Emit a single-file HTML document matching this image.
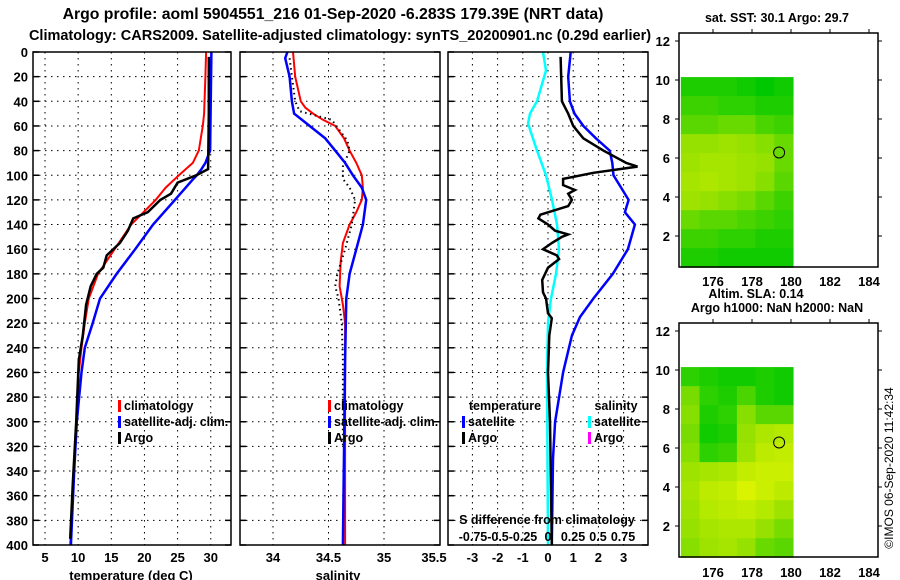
<!DOCTYPE html>
<html><head><meta charset="utf-8"><style>
html,body{margin:0;padding:0;background:#fff;}
svg{display:block;font-family:"Liberation Sans",sans-serif;}
.b{font-weight:bold;font-size:13px;}
</style></head><body>
<svg id="chart" width="900" height="580" viewBox="0 0 900 580" xmlns="http://www.w3.org/2000/svg">
<text x="333" y="19" text-anchor="middle" class="b" style="font-size:15.8px">Argo profile: aoml 5904551_216 01-Sep-2020 -6.283S 179.39E (NRT data)</text>
<text x="340" y="40" text-anchor="middle" class="b" style="font-size:14.5px">Climatology: CARS2009. Satellite-adjusted climatology: synTS_20200901.nc (0.29d earlier)</text>
<g id="layer"></g>
</svg>
<script>
// ---- data ----
const depthTicks=[0,20,40,60,80,100,120,140,160,180,200,220,240,260,280,300,320,340,360,380,400];
const tempTicks=[5,10,15,20,25,30];
const salTicks=[34,34.5,35,35.5];
const tdiffTicks=[-3,-2,-1,0,1,2,3];
const sdiffTicks=[-0.75,-0.5,-0.25,0,0.25,0.5,0.75];
const sdiffLabels=["-0.75","-0.5","-0.25","0","0.25","0.5","0.75"];

const climTDepth=[0,20,50,60,80,90,100,110,120,140,160,180,200,220,240,260,300,340,380,400];
const climTVal=[29.3,29.2,29.0,28.8,28.2,27.3,25.2,23.2,21.7,18.0,15.5,13.0,11.6,11.0,10.5,10.1,9.8,9.3,9.0,8.8];
const satTDepth=[0,80,90,95,100,104,120,140,160,180,200,220,240,260,300,340,400];
const satTVal=[30.1,29.9,29.2,28.6,27.9,27.2,24.6,21.3,18.6,15.8,13.3,12.2,11.0,10.5,9.8,9.4,8.9];
const argoTDepth=[4,50,95,100,106,115,120,130,135,145,155,165,175,180,190,205,230,250,300,350,395];
const argoTVal=[29.7,29.7,29.6,27.8,25.0,24.0,22.4,20.5,18.3,17.5,16.3,14.3,13.8,12.8,11.9,11.2,10.7,10.1,9.7,9.2,8.8];

const climSDepth=[0,20,40,45,50,55,60,70,80,90,100,110,120,130,140,155,170,190,205,220,400];
const climSVal=[34.18,34.2,34.25,34.29,34.36,34.45,34.56,34.64,34.69,34.75,34.8,34.81,34.8,34.75,34.69,34.63,34.61,34.6,34.63,34.65,34.65];
const satSDepth=[0,5,20,40,50,60,70,80,90,100,110,120,140,160,180,200,250,400];
const satSVal=[34.13,34.11,34.15,34.17,34.19,34.33,34.47,34.56,34.65,34.72,34.8,34.84,34.81,34.75,34.69,34.66,34.65,34.63];
const argoSDepth=[5,20,40,48,55,72,80,93,103,110,120,140,160,180,190,200,220,250,320];
const argoSVal=[34.15,34.17,34.2,34.24,34.53,34.67,34.69,34.63,34.63,34.69,34.74,34.71,34.65,34.58,34.56,34.59,34.62,34.63,34.63];

const dSatSDepth=[0,15,40,50,58,80,100,120,140,160,180,200,220,260,400];
const dSatSVal=[-0.05,-0.02,-0.11,-0.18,-0.2,-0.11,-0.02,0.04,0.09,0.11,0.08,0.03,0.0,-0.01,0.0];
const dSatTDepth=[0,20,40,50,60,70,80,90,100,110,120,130,140,160,180,200,215,230,260,300,330,400];
const dSatTVal=[0.9,0.8,0.87,1.05,1.4,1.9,2.45,2.55,2.6,2.9,3.2,3.05,3.45,3.17,2.57,1.8,1.27,0.95,0.6,0.28,0.2,0.15];
const dArgoTDepth=[4,40,50,60,70,80,90,93,95,98,103,108,112,115,120,125,132,135,140,145,148,150,155,160,165,168,175,185,195,200,212,216,230,260,300,400];
const dArgoTVal=[0.5,0.55,0.8,1.0,1.4,2.2,3.1,3.55,2.85,1.8,0.6,0.6,1.07,0.8,0.95,0.8,-0.3,-0.38,0.0,0.28,0.8,0.55,0.15,-0.2,0.35,0.44,0.0,-0.23,-0.2,-0.08,0.0,0.15,0.05,0.0,0.08,0.15];

const mapLonTicks=[176,178,180,182,184];
const mapLatTicks=[2,4,6,8,10,12];
const sstGrid=[
[0.1,0.1,0.1,0.05,0,0.05],
[0.2,0.2,0.15,0.15,0.1,0.1],
[0.3,0.3,0.35,0.35,0.25,0.2],
[0.5,0.5,0.55,0.5,0.45,0.35],
[0.55,0.6,0.6,0.55,0.5,0.35],
[0.6,0.65,0.6,0.55,0.45,0.3],
[0.55,0.5,0.45,0.4,0.3,0.2],
[0.35,0.3,0.3,0.25,0.2,0.15],
[0.2,0.2,0.15,0.15,0.1,0.1],
[0.1,0.1,0.05,0.05,0.05,0.05]];
const slaGrid=[
[0.15,0.1,0.05,0.05,0.1,0.05],
[0.4,0.15,0.1,0.25,0.1,0.05],
[0.45,0.1,0.15,0.45,0.3,0.3],
[0.4,0.05,0.1,0.5,0.65,0.7],
[0.45,0.15,0.2,0.55,0.75,0.8],
[0.55,0.6,0.65,0.8,0.85,0.85],
[0.6,0.75,0.8,0.95,0.85,0.75],
[0.55,0.7,0.75,0.8,0.7,0.55],
[0.5,0.6,0.65,0.65,0.5,0.4],
[0.45,0.55,0.6,0.5,0.35,0.3]];
const argoLon=179.39, argoLat=6.283;

// ---- helpers ----
const NS="http://www.w3.org/2000/svg";
const L=document.getElementById('layer');
function mk(t,a,p){const e=document.createElementNS(NS,t);for(const k in a)e.setAttribute(k,a[k]);(p||L).appendChild(e);return e;}
function txt(x,y,s,anchor,size,p){const e=mk('text',{x:x,y:y,'text-anchor':anchor||'middle','font-weight':'bold','font-size':size||13},p);e.textContent=s;return e;}
const yD=d=>52+d*1.2325;
const xT=t=>45+(t-5)*6.63;
const xS=s=>273+(s-34)*111;
const xDT=v=>548+v*25.2;
const xDS=v=>548+v*100;

function panel(x0,x1,name){
  const g=mk('g',{});
  
  
  depthTicks.forEach(d=>{if(d>0&&d<400)mk('line',{x1:x0,x2:x1,y1:yD(d),y2:yD(d),stroke:'#000','stroke-dasharray':'1.5,4.5'},g);
    mk('line',{x1:x0,x2:x0+6,y1:yD(d),y2:yD(d),stroke:'#000','stroke-width':1.5},g);
    mk('line',{x1:x1-6,x2:x1,y1:yD(d),y2:yD(d),stroke:'#000','stroke-width':1.5},g);});
  return g;
}
function vgrid(g,xs){xs.forEach(x=>mk('line',{x1:x,x2:x,y1:52,y2:545,stroke:'#000','stroke-dasharray':'1.5,4.5'},g));}
function frame(g,x0,x1){mk('rect',{x:x0,y:52,width:x1-x0,height:493,fill:'none',stroke:'#000','stroke-width':1.5},g);}
function line(g,ds,vs,fx,color,w,name,dash){
  const pts=ds.map((d,i)=>fx(vs[i]).toFixed(1)+','+yD(d).toFixed(1)).join(' ');
  const a={points:pts,fill:'none',stroke:color,'stroke-width':w};
  if(dash)a['stroke-dasharray']=dash;
  const e=mk('polyline',a,g);
  
  
}
function legendItem(g,x,y,color,label,name){
  const it=mk('g',{},g);
  
  
  mk('rect',{x:x,y:y-10,width:3,height:12,fill:color},it);
  txt(x+6,y,label,'start',12.5,it);
}

// depth labels
depthTicks.forEach(d=>{const t=txt(28,yD(d)+5,String(d),'end',13);
  
  });

// panel 1: temperature
const p1=panel(33,231,'temperature-panel');
vgrid(p1,tempTicks.map(xT));
line(p1,climTDepth,climTVal,xT,'#ff0000',2,'climatology-temperature-line');
line(p1,satTDepth,satTVal,xT,'#0000ff',2.5,'satellite-temperature-line');
line(p1,argoTDepth,argoTVal,xT,'#000',2.5,'argo-temperature-line');
frame(p1,33,231);
tempTicks.forEach(t=>txt(xT(t),562,String(t)));
txt(131,580,'temperature (deg C)');
legendItem(p1,118,410,'#ff0000','climatology','legend-climatology');
legendItem(p1,118,426,'#0000ff','satellite-adj. clim.','legend-satellite');
legendItem(p1,118,442,'#000','Argo','legend-argo');

// panel 2: salinity
const p2=panel(240,440,'salinity-panel');
vgrid(p2,[34,34.5,35].map(xS));
line(p2,climSDepth,climSVal,xS,'#ff0000',2,'climatology-salinity-line');
line(p2,argoSDepth,argoSVal,xS,'#000',2,'argo-salinity-line','1.5,3.5');
line(p2,satSDepth,satSVal,xS,'#0000ff',2.5,'satellite-salinity-line');
frame(p2,240,440);
[34,34.5,35].forEach(s=>txt(xS(s),562,String(s)));
txt(434,562,'35.5','middle',13);
txt(338,580,'salinity');
legendItem(p2,328,410,'#ff0000','climatology','legend-climatology-s');
legendItem(p2,328,426,'#0000ff','satellite-adj. clim.','legend-satellite-s');
legendItem(p2,328,442,'#000','Argo','legend-argo-s');

// panel 3: differences
const p3=panel(448,648,'difference-panel');
vgrid(p3,tdiffTicks.map(xDT));
line(p3,dSatSDepth,dSatSVal,xDS,'#00ffff',2.5,'salinity-satellite-diff-line');
line(p3,dSatTDepth,dSatTVal,xDT,'#0000ff',2.5,'temperature-satellite-diff-line');
line(p3,dArgoTDepth,dArgoTVal,xDT,'#000',2.5,'temperature-argo-diff-line');
frame(p3,448,648);
tdiffTicks.forEach(t=>txt(xDT(t),562,String(t)));
txt(505,410,'temperature','middle',12.5);
txt(616,410,'salinity','middle',12.5);
legendItem(p3,462,426,'#0000ff','satellite','legend-t-satellite');
legendItem(p3,462,442,'#000','Argo','legend-t-argo');
legendItem(p3,588,426,'#00ffff','satellite','legend-s-satellite');
legendItem(p3,588,442,'#ff00ff','Argo','legend-s-argo');
txt(547,524,'S difference from climatology','middle',12.5);
sdiffTicks.forEach((v,i)=>txt(xDS(v),541,sdiffLabels[i],'middle',12.5));

// maps
const xLon=lon=>713+(lon-176)*19.5;
function ramp(v){const r=v<0.5?v*2*150:150+(v-0.5)*2*75;const gg=v<0.5?200+v*2*25:225+(v-0.5)*2*20;return 'rgb('+Math.round(r)+','+Math.round(gg)+',0)';}
function map(off,grid,name,title,labY){
  const g=mk('g',{});
  
  
  const yLat=lat=>80+off+(10-lat)*19.5;
  const lon0=174.35,lon1=180.1,lat0=0.4,lat1=10.15;
  const nr=grid.length,nc=grid[0].length;
  const dLon=(lon1-lon0)/nc,dLat=(lat1-lat0)/nr;
  grid.forEach((row,r)=>row.forEach((v,c)=>{
    const la=lat1-r*dLat;
    const cell=mk('rect',{x:xLon(lon0+c*dLon),y:yLat(la),width:dLon*19.5+0.6,height:dLat*19.5+0.6,fill:ramp(v)},g);
    
    
  }));
  mk('rect',{x:679,y:33+off,width:199,height:234,fill:'none',stroke:'#000','stroke-width':1.5},g);
  mapLonTicks.forEach(l=>{mk('line',{x1:xLon(l),x2:xLon(l),y1:33+off,y2:29+off,stroke:'#000'},g);
    txt(xLon(l),labY,String(l),'middle',13,g);});
  mapLatTicks.forEach(l=>{mk('line',{x1:679,x2:675,y1:yLat(l),y2:yLat(l),stroke:'#000'},g);
    mk('line',{x1:878,x2:882,y1:yLat(l),y2:yLat(l),stroke:'#000'},g);
    txt(670,yLat(l)+5,String(l),'end',13,g);});
  const c=mk('circle',{cx:xLon(argoLon),cy:yLat(argoLat),r:5.5,fill:'none',stroke:'#000','stroke-width':1},g);
  
  
  txt(777,22+off,title,'middle',12.5,g);
}
map(0,sstGrid,'sst-map','sat. SST: 30.1 Argo: 29.7',286);
map(290,slaGrid,'sla-map','Argo h1000: NaN h2000: NaN',577);
txt(756,298,'Altim. SLA: 0.14','middle',12.5);
const st=mk('text',{x:0,y:0,'font-size':12,transform:'translate(893,468) rotate(-90)','text-anchor':'middle'});
st.textContent='\u00a9IMOS 06-Sep-2020 11:42:34';


</script>
</body></html>
